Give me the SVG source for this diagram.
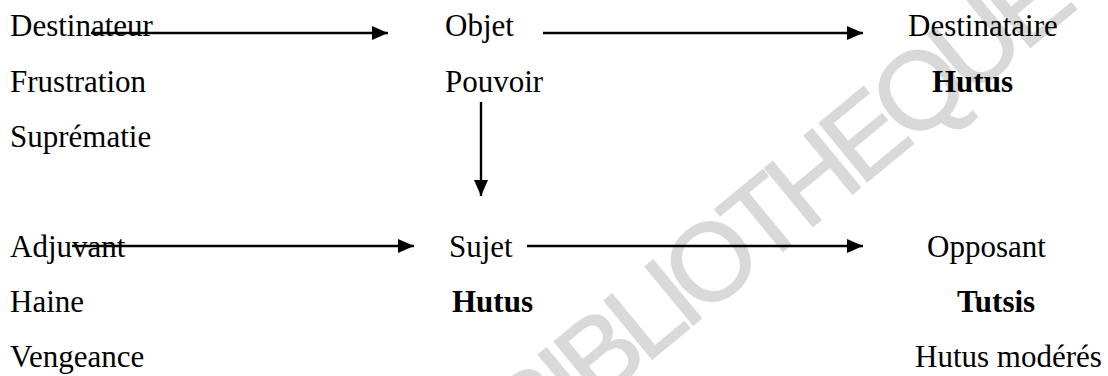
<svg xmlns="http://www.w3.org/2000/svg" width="1108" height="376" viewBox="0 0 1108 376">
<defs>
<style>
.t{font-family:"Liberation Serif","Times New Roman",serif;font-size:31px;fill:#000}
.b{font-weight:bold}
.c{stroke:#000;stroke-width:2.4;fill:none}
.wm{font-family:"Liberation Sans",Arial,sans-serif;font-size:110px;fill:#d9d9d9;stroke:#d9d9d9;stroke-width:1.5;letter-spacing:-9px}
</style>
<marker id="ah" viewBox="0 0 16 14" refX="16" refY="7" markerWidth="16" markerHeight="14" markerUnits="userSpaceOnUse" orient="auto">
<path d="M0,0 L16,7 L0,14 Z" fill="#000"/>
</marker>
</defs>
<rect width="1108" height="376" fill="#fff"/>
<g id="watermark" transform="translate(710,260) rotate(-39.5)">
<text class="wm" x="-267" y="39.6">BIBLIOTHEQUE</text>
</g>
<g id="destinateur"><text class="t" x="10" y="36">Destinateur</text><text class="t" x="10" y="91.5">Frustration</text><text class="t" x="10" y="147">Suprématie</text></g>
<g id="objet"><text class="t" x="445" y="36">Objet</text><text class="t" x="445" y="91.5">Pouvoir</text></g>
<g id="destinataire"><text class="t" x="908" y="36">Destinataire</text><text class="t b" x="932" y="91.5">Hutus</text></g>
<g id="adjuvant"><text class="t" x="10" y="257">Adjuvant</text><text class="t" x="10" y="312">Haine</text><text class="t" x="10" y="367">Vengeance</text></g>
<g id="sujet"><text class="t" x="449" y="257">Sujet</text><text class="t b" x="452" y="312">Hutus</text></g>
<g id="opposant"><text class="t" x="927" y="257">Opposant</text><text class="t b" x="957" y="312">Tutsis</text><text class="t" x="915" y="367">Hutus modérés</text></g>
<g id="connectors">
<line class="c" x1="91" y1="33" x2="388" y2="33" marker-end="url(#ah)"/>
<line class="c" x1="543" y1="33" x2="863" y2="33" marker-end="url(#ah)"/>
<line class="c" x1="481" y1="102" x2="481" y2="196" marker-end="url(#ah)"/>
<line class="c" x1="72" y1="246" x2="414" y2="246" marker-end="url(#ah)"/>
<line class="c" x1="527" y1="246" x2="863" y2="246" marker-end="url(#ah)"/>
</g>
</svg>
